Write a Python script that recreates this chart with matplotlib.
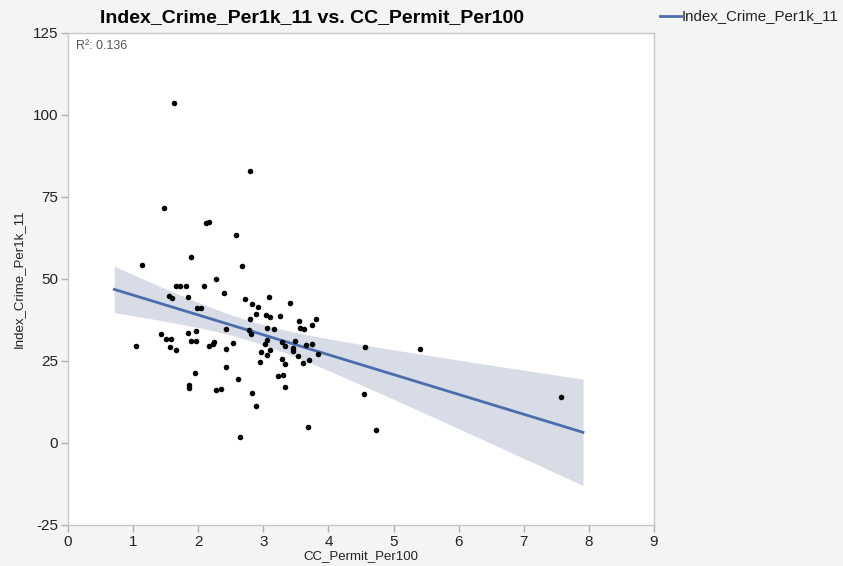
import numpy as np
import matplotlib
matplotlib.use("Agg")
import matplotlib.pyplot as plt

plt.rcParams['font.family'] = ['Liberation Sans', 'DejaVu Sans']

title = "Index_Crime_Per1k_11 vs. CC_Permit_Per100"
x_label = "CC_Permit_Per100"
y_label = "Index_Crime_Per1k_11"
series_name = "Index_Crime_Per1k_11"
r2_text = "R²: 0.136"

cc_permit = [1.14, 1.89, 2.68, 1.66, 1.72, 1.81, 2.09, 2.28, 1.55, 1.60, 1.85, 2.40,
             2.72, 2.82, 2.92, 3.08, 1.98, 2.04, 2.89, 3.04, 3.11, 3.25, 2.80, 2.43,
             2.78, 2.81, 3.06, 3.17, 1.84, 1.96, 1.43, 1.51, 1.58, 1.89, 1.96, 1.05,
             1.57, 1.66, 2.16, 2.22, 2.24, 2.42, 2.53, 3.02, 3.06, 2.96, 3.05, 3.11,
             2.95, 2.43, 1.95, 3.23, 2.61, 1.86, 1.86, 2.28, 2.35, 2.83, 2.88, 2.64,
             1.63, 2.80, 1.47, 2.12, 2.17, 2.58, 3.41, 3.55, 3.81, 3.57, 3.63, 3.75,
             3.28, 3.33, 3.49, 3.45, 3.45, 3.66, 3.74, 3.84, 3.54, 3.70, 3.61, 3.28,
             3.33, 3.30, 3.33, 4.56, 5.41, 4.55, 3.68, 4.73, 7.57]
crime = [54.2, 56.6, 53.9, 48.0, 48.0, 48.0, 48.0, 49.9, 44.9, 44.2, 44.4, 45.6,
         43.9, 42.3, 41.6, 44.4, 41.3, 41.3, 39.4, 38.9, 38.4, 38.6, 37.7, 34.7,
         34.4, 33.3, 35.2, 34.8, 33.6, 34.1, 33.1, 31.8, 31.8, 31.0, 31.2, 29.6,
         29.4, 28.3, 29.7, 30.2, 30.7, 28.8, 30.5, 30.2, 31.4, 27.7, 26.7, 28.4,
         24.7, 23.2, 21.3, 20.4, 19.4, 17.8, 16.7, 16.1, 16.5, 15.3, 11.4, 1.7,
         103.7, 83.0, 71.6, 67.0, 67.5, 63.5, 42.6, 37.3, 37.7, 35.2, 34.9, 36.0,
         30.8, 29.7, 31.1, 29.0, 28.0, 29.9, 30.2, 27.0, 26.6, 25.4, 24.5, 25.7,
         24.1, 20.6, 17.2, 29.2, 28.8, 14.8, 4.8, 4.1, 14.1]

x_ticks = [0, 1, 2, 3, 4, 5, 6, 7, 8, 9]
y_ticks = [-25, 0, 25, 50, 75, 100, 125]

x = np.array(cc_permit)
y = np.array(crime)
n = len(x)
slope, intercept = np.polyfit(x, y, 1)
resid = y - (slope * x + intercept)
s = np.sqrt(np.sum(resid ** 2) / (n - 2))
xm = x.mean()
sxx = np.sum((x - xm) ** 2)
rng = x.max() - x.min()
xs = np.linspace(x.min() - 0.052 * rng, x.max() + 0.052 * rng, 200)
ys = slope * xs + intercept
se = s * np.sqrt(1.0 / n + (xs - xm) ** 2 / sxx)
t = 1.986
lo, hi = ys - t * se, ys + t * se

bg = '#f4f4f4'
fig = plt.figure(figsize=(8.43, 5.66), dpi=100, facecolor=bg)
ax = fig.add_axes([68 / 843, 1 - 525 / 566, (654 - 68) / 843, (525 - 33) / 566])
ax.set_facecolor('white')

ax.fill_between(xs, lo, hi, color='#d8dce7', linewidth=0, zorder=1)
ax.plot(xs, ys, color='#4a6ead', linewidth=2.0, zorder=2)
ax.scatter(x, y, s=16, color='black', linewidths=0, zorder=3)

ax.set_xlim(0, 9)
ax.set_ylim(-25, 125)
ax.set_xticks(x_ticks)
ax.set_yticks(y_ticks)
ax.set_xticklabels([str(v) for v in x_ticks], fontsize=11)
ax.set_yticklabels([str(v) for v in y_ticks], fontsize=11)
ax.tick_params(direction='out', length=5, color='#b0b0b0', width=1, pad=2, labelcolor='#222222')
for sp in ax.spines.values():
    sp.set_color('#c8c8c8')
    sp.set_linewidth(1)

ax.set_xlabel(x_label, fontsize=9.5, labelpad=1, color='#222222')
ax.set_ylabel(y_label, fontsize=9.5, labelpad=6, color='#222222')

ax.text(0.013, 0.985, r2_text, transform=ax.transAxes, ha='left', va='top',
        fontsize=9, color='#555555')

fig.text(312 / 843, 1 - 18 / 566, title, ha='center', va='center',
         fontsize=14, fontweight='bold', color='black')

# legend outside to the right
fig.lines.append(matplotlib.lines.Line2D([660 / 843, 681 / 843], [1 - 16 / 566, 1 - 16 / 566],
                                         transform=fig.transFigure, color='#4a6ead', linewidth=2))
fig.text(682 / 843, 1 - 16 / 566, series_name, ha='left', va='center', fontsize=10.8, color='#222222')

fig.savefig('out.png', dpi=100, facecolor=bg)
